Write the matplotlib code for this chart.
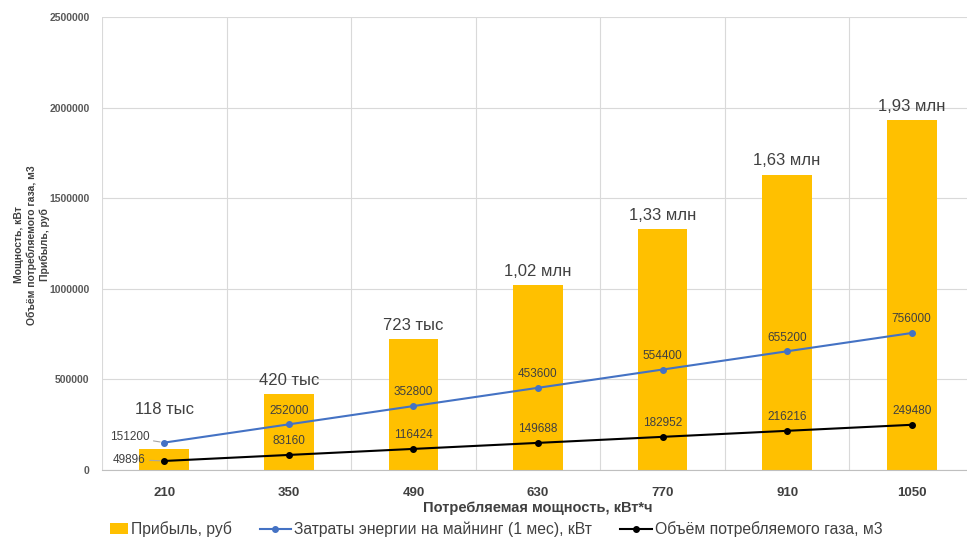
import numpy as np
import matplotlib.pyplot as plt
from matplotlib.patches import Rectangle
from matplotlib.legend_handler import HandlerPatch

plt.rcParams['font.family'] = ['Liberation Sans', 'DejaVu Sans']

# данные
categories = ['210', '350', '490', '630', '770', '910', '1050']
profit = [118000, 420000, 723000, 1020000, 1330000, 1630000, 1930000]
profit_labels = ['118 тыс', '420 тыс', '723 тыс', '1,02 млн', '1,33 млн', '1,63 млн', '1,93 млн']
energy = [151200, 252000, 352800, 453600, 554400, 655200, 756000]
gas = [49896, 83160, 116424, 149688, 182952, 216216, 249480]
legend_labels = ['Прибыль, руб', 'Затраты энергии на майнинг (1 мес), кВт',
                 'Объём потребляемого газа, м3']

yellow = '#FFC000'
blue = '#4472C4'
txt = '#404040'

fig = plt.figure(figsize=(9.67, 5.43), dpi=100)
ax = fig.add_axes([102 / 967, 73 / 543, 872 / 967, 453 / 543])

x = np.arange(len(categories))
b = ax.bar(x, profit, width=0.4, color=yellow, zorder=2)
l1, = ax.plot(x, energy, color=blue, lw=1.5, marker='o', ms=4, zorder=3)
l2, = ax.plot(x, gas, color='black', lw=1.5, marker='o', ms=4, zorder=3)

# подписи столбцов
for i in range(len(x)):
    if i == 0:
        ax.text(x[i], 290000, profit_labels[i], ha='center', va='bottom',
                fontsize=12, color=txt)
    else:
        ax.text(x[i], profit[i] + 35000, profit_labels[i], ha='center', va='bottom',
                fontsize=12, color=txt)

# подписи линий
for i in range(len(x)):
    if i == 0:
        ax.annotate(str(energy[i]), xy=(x[i], energy[i]), xytext=(x[i] - 0.12, energy[i] + 30000),
                    ha='right', va='center', fontsize=8.5, color=txt,
                    arrowprops=dict(arrowstyle='-', color='#a6a6a6', lw=0.8, shrinkA=1, shrinkB=3))
        ax.annotate(str(gas[i]), xy=(x[i], gas[i]), xytext=(x[i] - 0.15, gas[i] + 8000),
                    ha='right', va='center', fontsize=8.5, color=txt,
                    arrowprops=dict(arrowstyle='-', color='#a6a6a6', lw=0.8, shrinkA=1, shrinkB=3))
    else:
        ax.text(x[i], energy[i] + 42000, str(energy[i]), ha='center', va='bottom',
                fontsize=8.5, color=txt)
        ax.text(x[i], gas[i] + 45000, str(gas[i]), ha='center', va='bottom',
                fontsize=8.5, color=txt)

ax.set_xlim(-0.5, len(x) - 0.5)
ax.set_ylim(0, 2500000)
ax.set_yticks(np.arange(0, 2500001, 500000))
ax.set_yticklabels([str(v) for v in range(0, 2500001, 500000)],
                   fontsize=7.5, fontweight='bold', color='#595959')
ax.set_xticks(x)
ax.set_xticklabels(categories, fontsize=9.5, fontweight='bold', color='#404040')
ax.set_xticks(np.arange(-0.5, len(x), 1), minor=True)
ax.tick_params(axis='both', which='both', length=0)
ax.tick_params(axis='x', pad=12)
ax.tick_params(axis='y', pad=9)

ax.grid(axis='y', color='#d9d9d9', lw=0.8, zorder=0)
ax.grid(axis='x', which='minor', color='#d9d9d9', lw=0.8, zorder=0)
ax.grid(axis='x', which='major', visible=False)
for s in ['top', 'right', 'left']:
    ax.spines[s].set_visible(False)
ax.spines['bottom'].set_color('#bfbfbf')

ax.set_xlabel('Потребляемая мощность, кВт*ч', fontsize=10.5, fontweight='bold',
              color='#404040', labelpad=2)
fig.text(32 / 967, 1 - 245 / 543, 'Мощность, кВт\nОбъём потребляемого газа, м3\nПрибыль, руб',
         rotation=90, ha='center', va='center', fontsize=7.5, fontweight='bold',
         color='#404040', linespacing=1.3)


# квадратный маркер для столбцов в легенде (прижат к тексту)
def small_box(legend, orig_handle, xdescent, ydescent, width, height, fontsize):
    w = width * 0.56
    return Rectangle((width - w - xdescent, -ydescent), w, height)


bar_handle = b.patches[0]
fig.legend(handles=[bar_handle, l1, l2], labels=legend_labels, loc='lower left',
           bbox_to_anchor=(82 / 967, -0.015), ncol=3,
           frameon=False, fontsize=11.3, handlelength=2.0, columnspacing=1.8, handletextpad=0.2,
           labelcolor='#404040', handler_map={bar_handle: HandlerPatch(patch_func=small_box)})

fig.savefig('out.png', dpi=100)
